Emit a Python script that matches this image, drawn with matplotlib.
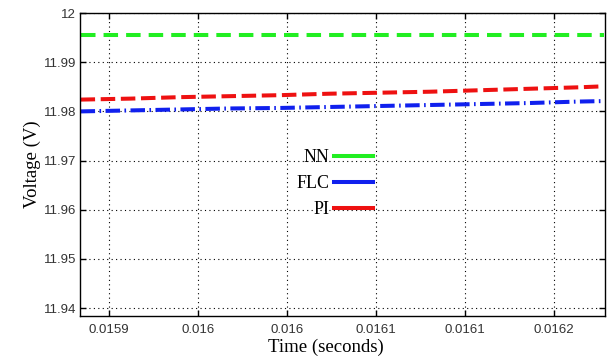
import matplotlib
matplotlib.use("Agg")
import matplotlib.pyplot as plt

# ── data ──────────────────────────────────────────────
time_s = [0.015884, 0.015912, 0.015940, 0.015968, 0.015996, 0.016024,
          0.016052, 0.016080, 0.016108, 0.016136, 0.016164, 0.016178]
v_nn = [11.9956] * len(time_s)
v_flc = [11.9800, 11.9802, 11.9804, 11.9806, 11.9807, 11.9809,
         11.9811, 11.9813, 11.9815, 11.9817, 11.9820, 11.9821]
v_pi = [11.9824, 11.9826, 11.9829, 11.9831, 11.9833, 11.9836,
        11.9838, 11.9840, 11.9843, 11.9846, 11.9849, 11.9851]

xticks = [0.01590, 0.01595, 0.01600, 0.01605, 0.01610, 0.01615]
xtick_labels = ["0.0159", "0.016", "0.016", "0.0161", "0.0161", "0.0162"]
yticks = [11.94, 11.95, 11.96, 11.97, 11.98, 11.99, 12.0]
ytick_labels = ["11.94", "11.95", "11.96", "11.97", "11.98", "11.99", "12"]

SERIF = ["Liberation Serif", "DejaVu Serif"]
SANS = ["Liberation Sans Narrow", "Liberation Sans", "DejaVu Sans"]

fig = plt.figure(figsize=(6.11, 3.62), dpi=100)
ax = fig.add_axes([0.131, 0.127, 0.859, 0.837])

ax.plot(time_s, v_nn, color="#22ee22", lw=2.9, ls=(0, (3.6, 2.0)), label="NN")
ax.plot(time_s, v_flc, color="#1020ee", lw=2.9,
        ls=(0, (3.6, 1.1, 0.4, 1.1)), label="FLC")
ax.plot(time_s, v_pi, color="#ee1111", lw=2.9, ls=(0, (3.6, 1.4)), label="PI")

ax.set_xlim(0.0158837, 0.0161787)
ax.set_ylim(11.9384, 12.0)
ax.set_xticks(xticks)
ax.set_xticklabels(xtick_labels, family=SANS, fontsize=9.5, color="#333333")
ax.set_yticks(yticks)
ax.set_yticklabels(ytick_labels, family=SANS, fontsize=9.5, color="#333333")
ax.tick_params(direction="in", top=True, right=True, length=4, width=1)
ax.tick_params(axis="x", pad=6)
ax.tick_params(axis="y", pad=3)

ax.grid(True, color="black", ls=(0, (1, 3)), lw=0.8)
for s in ax.spines.values():
    s.set_linewidth(1.0)

ax.set_xlabel("Time (seconds)", family=SERIF, fontsize=13.5, labelpad=1)
ax.xaxis.set_label_coords(0.469, -0.075)
ax.set_ylabel("Voltage (V)", family=SERIF, fontsize=13.5, labelpad=2)

# legend: label first, short line after it
handles, labels = ax.get_legend_handles_labels()
leg_lines = [plt.Line2D([], [], color=h.get_color(), lw=2.9) for h in handles]
leg = ax.legend(leg_lines, labels, loc="center right",
                bbox_to_anchor=(0.590, 0.436),
                frameon=False, markerfirst=False, handlelength=2.2,
                handletextpad=0.25, labelspacing=0.5,
                prop={"family": SERIF, "size": 13})
for t in leg.get_texts():
    t.set_ha("right")

fig.savefig("out.png", dpi=100, facecolor="white")
